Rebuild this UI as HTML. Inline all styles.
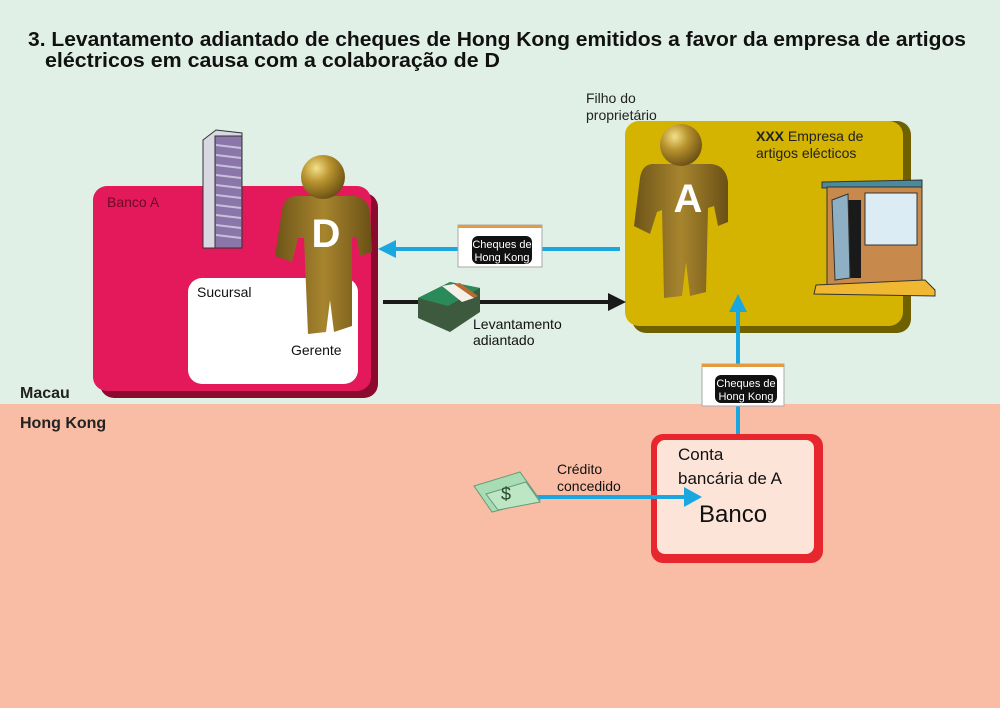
<!DOCTYPE html>
<html><head><meta charset="utf-8"><style>
html,body{margin:0;padding:0;width:1000px;height:708px;overflow:hidden;}
svg{display:block;font-family:"Liberation Sans",sans-serif;}
</style></head><body>
<svg width="1000" height="708" viewBox="0 0 1000 708" xmlns="http://www.w3.org/2000/svg">
<defs>
<radialGradient id="gold" cx="0.35" cy="0.3" r="0.8">
<stop offset="0" stop-color="#f4e08a"/><stop offset="0.4" stop-color="#b8932e"/><stop offset="1" stop-color="#5e4510"/>
</radialGradient>
<linearGradient id="body" x1="0" x2="1">
<stop offset="0" stop-color="#6e5418"/><stop offset="0.5" stop-color="#a7852e"/><stop offset="1" stop-color="#6a5015"/>
</linearGradient>
</defs>
<rect x="0" y="0" width="1000" height="404" fill="#e0f0e6"/>
<rect x="0" y="404" width="1000" height="304" fill="#f9bca5"/>

<text x="28" y="46" font-size="20" font-weight="bold" fill="#111" textLength="938" lengthAdjust="spacingAndGlyphs">3. Levantamento adiantado de cheques de Hong Kong emitidos a favor da empresa de artigos</text>
<text x="45" y="67" font-size="20" font-weight="bold" fill="#111" textLength="455" lengthAdjust="spacingAndGlyphs">eléctricos em causa com a colaboração de D</text>

<text x="586" y="103" font-size="14" fill="#222">Filho do</text>
<text x="586" y="120" font-size="14" fill="#222">proprietário</text>

<!-- Banco A -->
<rect x="100" y="193" width="278" height="205" rx="14" fill="#8a0b2e"/>
<rect x="93" y="186" width="278" height="205" rx="14" fill="#e3195b"/>
<text x="107" y="207" font-size="14" fill="#6a0a25">Banco A</text>
<rect x="188" y="278" width="170" height="106" rx="14" fill="#fff"/>
<text x="197" y="297" font-size="14" fill="#111">Sucursal</text>
<text x="291" y="355" font-size="14" fill="#111">Gerente</text>
<!-- building -->
<g>
<polygon points="203,140 216,130 242,133 242,248 203,248" fill="#d8d8e2" stroke="#333" stroke-width="1"/>
<rect x="215" y="136" width="27" height="112" fill="#8a76a8" stroke="#333" stroke-width="1"/>
<g stroke="#c8c0dc" stroke-width="2">
<line x1="216" y1="145" x2="241" y2="148"/><line x1="216" y1="155" x2="241" y2="158"/><line x1="216" y1="165" x2="241" y2="168"/><line x1="216" y1="175" x2="241" y2="178"/><line x1="216" y1="185" x2="241" y2="188"/><line x1="216" y1="195" x2="241" y2="198"/><line x1="216" y1="205" x2="241" y2="208"/><line x1="216" y1="215" x2="241" y2="218"/><line x1="216" y1="225" x2="241" y2="228"/><line x1="216" y1="235" x2="241" y2="238"/>
</g>
</g>
<!-- person D -->
<g>
<path d="M296,196 L354,196 Q368,198 370,212 L372,252 L360,256 L356,236 L352,238 L352,326 L334,332 L330,300 L326,332 L308,334 L304,238 L298,238 L292,262 L275,256 L282,210 Q284,197 296,196 Z" fill="url(#body)"/>
<circle cx="323" cy="177" r="22" fill="url(#gold)"/>
<text x="326" y="247" font-size="40" font-weight="bold" fill="#fff" text-anchor="middle">D</text>
</g>

<!-- yellow company box -->
<rect x="632" y="121" width="279" height="212" rx="14" fill="#6f6000"/>
<rect x="625" y="121" width="278" height="205" rx="14" fill="#d4b400"/>
<text x="756" y="141" font-size="14" fill="#222"><tspan font-weight="bold">XXX</tspan> Empresa de</text>
<text x="756" y="158" font-size="14" fill="#222">artigos elécticos</text>
<!-- person A -->
<g>
<path d="M652,164 L712,164 Q726,166 728,182 L728,222 L718,226 L714,206 L708,208 L706,292 L690,296 L686,262 L682,296 L664,298 L662,210 L657,212 L650,234 L634,226 L640,178 Q642,165 652,164 Z" fill="url(#body)"/>
<circle cx="681" cy="145" r="21" fill="url(#gold)"/>
<text x="688" y="212" font-size="40" font-weight="bold" fill="#fff" text-anchor="middle">A</text>
</g>
<!-- shop -->
<g>
<path d="M822,182 L922,180 L922,187 L822,188 Z" fill="#4a8a9a" stroke="#333"/>
<rect x="827" y="187" width="95" height="98" fill="#c88a4c" stroke="#333"/>
<rect x="865" y="193" width="52" height="52" fill="#dcecf4" stroke="#333"/>
<rect x="846" y="200" width="15" height="78" fill="#1a1a1a"/>
<polygon points="832,200 848,194 850,278 835,280" fill="#8fb0c4" stroke="#333"/>
<polygon points="816,285 925,280 935,290 935,296 814,294" fill="#f0b830" stroke="#333"/>
</g>

<!-- blue arrow cheques to D -->
<line x1="620" y1="249" x2="392" y2="249" stroke="#1aa7e0" stroke-width="4"/>
<polygon points="378,249 396,240 396,258" fill="#1aa7e0"/>
<g>
<rect x="458" y="225" width="84" height="42" fill="#fff" stroke="#aaa"/>
<rect x="458" y="225" width="84" height="3" fill="#e39a40"/>
<rect x="472" y="236" width="60" height="28" rx="6" fill="#111"/>
<text x="502" y="248" font-size="11" fill="#fff" text-anchor="middle">Cheques de</text>
<text x="502" y="261" font-size="11" fill="#fff" text-anchor="middle">Hong Kong</text>
</g>
<!-- black arrow -->
<line x1="383" y1="302" x2="610" y2="302" stroke="#1a1a1a" stroke-width="4"/>
<polygon points="626,302 608,293 608,311" fill="#1a1a1a"/>
<!-- money bundle -->
<g>
<polygon points="418,298 450,282 480,288 480,312 450,332 418,318" fill="#3e5a3e"/>
<polygon points="418,298 450,282 480,288 448,306" fill="#2a8a5a"/>
<polygon points="442,286 454,284 474,298 462,302" fill="#f4f0e8"/>
<polygon points="454,284 460,283 478,296 474,298" fill="#b86a30"/>
</g>
<text x="473" y="329" font-size="14" fill="#111">Levantamento</text>
<text x="473" y="345" font-size="14" fill="#111">adiantado</text>

<text x="20" y="398" font-size="16" font-weight="bold" fill="#222">Macau</text>
<text x="20" y="428" font-size="16" font-weight="bold" fill="#222">Hong Kong</text>

<!-- vertical blue arrow -->
<line x1="738" y1="444" x2="738" y2="310" stroke="#1aa7e0" stroke-width="4"/>
<polygon points="738,294 729,312 747,312" fill="#1aa7e0"/>
<g>
<rect x="702" y="364" width="82" height="42" fill="#fff" stroke="#aaa"/>
<rect x="702" y="364" width="82" height="3" fill="#e39a40"/>
<rect x="715" y="375" width="62" height="28" rx="6" fill="#111"/>
<text x="746" y="387" font-size="11" fill="#fff" text-anchor="middle">Cheques de</text>
<text x="746" y="400" font-size="11" fill="#fff" text-anchor="middle">Hong Kong</text>
</g>

<!-- HK bank -->
<rect x="651" y="434" width="172" height="129" rx="12" fill="#e8262d"/>
<rect x="657" y="440" width="157" height="114" rx="8" fill="#fde4d9"/>
<text x="678" y="460" font-size="17" fill="#111">Conta</text>
<text x="678" y="484" font-size="17" fill="#111">bancária de A</text>
<text x="699" y="522" font-size="24" fill="#111">Banco</text>

<!-- credit arrow -->
<line x1="536" y1="497" x2="685" y2="497" stroke="#1aa7e0" stroke-width="4"/>
<polygon points="702,497 684,487 684,507" fill="#1aa7e0"/>
<g>
<polygon points="474,486 520,472 540,500 492,512" fill="#a8dcb4" stroke="#6a9a78"/>
<polygon points="486,494 526,482 540,502 498,510" fill="#bce6c4" stroke="#6a9a78"/>
<text x="506" y="500" font-size="18" fill="#2a4a30" text-anchor="middle">$</text>
</g>
<text x="557" y="474" font-size="14" fill="#111">Crédito</text>
<text x="557" y="491" font-size="14" fill="#111">concedido</text>
</svg>
</body></html>
